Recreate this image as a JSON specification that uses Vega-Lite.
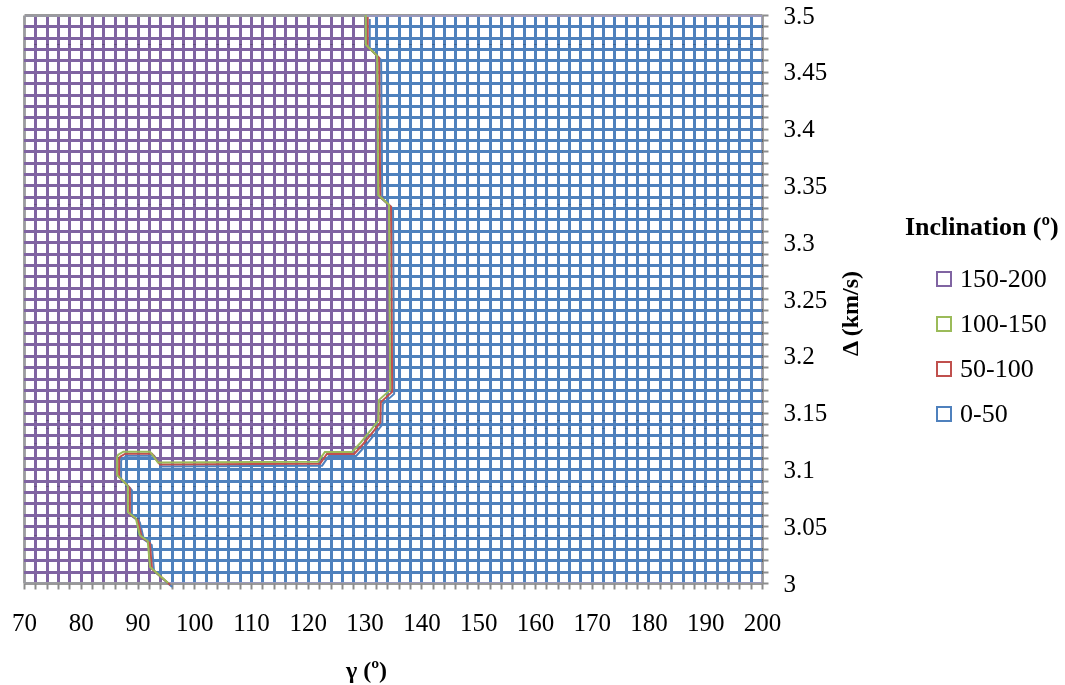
{
  "$schema": "https://vega.github.io/schema/vega-lite/v6.json",
  "width": 738,
  "height": 568,
  "autosize": {"type": "none"},
  "padding": {"left": 24, "top": 15, "right": 303, "bottom": 102},
  "background": "white",
  "config": {"font": "Liberation Serif", "view": {"stroke": null}},
  "datasets": {
    "regions": [
      {"y": 3.0, "ye": 3.007, "x": 70, "xe": 94.6, "c": "150-200"},
      {"y": 3.0, "ye": 3.007, "x": 94.6, "xe": 200, "c": "0-50"},
      {"y": 3.007, "ye": 3.014, "x": 70, "xe": 93.0, "c": "150-200"},
      {"y": 3.007, "ye": 3.014, "x": 93.0, "xe": 200, "c": "0-50"},
      {"y": 3.014, "ye": 3.037, "x": 70, "xe": 92.0, "c": "150-200"},
      {"y": 3.014, "ye": 3.037, "x": 92.0, "xe": 200, "c": "0-50"},
      {"y": 3.037, "ye": 3.042, "x": 70, "xe": 91.1, "c": "150-200"},
      {"y": 3.037, "ye": 3.042, "x": 91.1, "xe": 200, "c": "0-50"},
      {"y": 3.042, "ye": 3.057, "x": 70, "xe": 90.0, "c": "150-200"},
      {"y": 3.042, "ye": 3.057, "x": 90.0, "xe": 200, "c": "0-50"},
      {"y": 3.057, "ye": 3.0625, "x": 70, "xe": 89.0, "c": "150-200"},
      {"y": 3.057, "ye": 3.0625, "x": 89.0, "xe": 200, "c": "0-50"},
      {"y": 3.0625, "ye": 3.085, "x": 70, "xe": 88.3, "c": "150-200"},
      {"y": 3.0625, "ye": 3.085, "x": 88.3, "xe": 200, "c": "0-50"},
      {"y": 3.085, "ye": 3.095, "x": 70, "xe": 87.2, "c": "150-200"},
      {"y": 3.085, "ye": 3.095, "x": 87.2, "xe": 200, "c": "0-50"},
      {"y": 3.095, "ye": 3.1065, "x": 70, "xe": 86.4, "c": "150-200"},
      {"y": 3.095, "ye": 3.1065, "x": 86.4, "xe": 200, "c": "0-50"},
      {"y": 3.1065, "ye": 3.1153, "x": 70, "xe": 86.6, "c": "150-200"},
      {"y": 3.1065, "ye": 3.1153, "x": 86.6, "xe": 92.9, "c": "0-50"},
      {"y": 3.1065, "ye": 3.1153, "x": 92.9, "xe": 122.4, "c": "150-200"},
      {"y": 3.1065, "ye": 3.1153, "x": 122.4, "xe": 200, "c": "0-50"},
      {"y": 3.1153, "ye": 3.123, "x": 70, "xe": 128.5, "c": "150-200"},
      {"y": 3.1153, "ye": 3.123, "x": 128.5, "xe": 200, "c": "0-50"},
      {"y": 3.123, "ye": 3.136, "x": 70, "xe": 130.3, "c": "150-200"},
      {"y": 3.123, "ye": 3.136, "x": 130.3, "xe": 200, "c": "0-50"},
      {"y": 3.136, "ye": 3.143, "x": 70, "xe": 131.9, "c": "150-200"},
      {"y": 3.136, "ye": 3.143, "x": 131.9, "xe": 200, "c": "0-50"},
      {"y": 3.143, "ye": 3.161, "x": 70, "xe": 132.5, "c": "150-200"},
      {"y": 3.143, "ye": 3.161, "x": 132.5, "xe": 200, "c": "0-50"},
      {"y": 3.161, "ye": 3.17, "x": 70, "xe": 133.5, "c": "150-200"},
      {"y": 3.161, "ye": 3.17, "x": 133.5, "xe": 200, "c": "0-50"},
      {"y": 3.17, "ye": 3.333, "x": 70, "xe": 134.4, "c": "150-200"},
      {"y": 3.17, "ye": 3.333, "x": 134.4, "xe": 200, "c": "0-50"},
      {"y": 3.333, "ye": 3.3415, "x": 70, "xe": 133.4, "c": "150-200"},
      {"y": 3.333, "ye": 3.3415, "x": 133.4, "xe": 200, "c": "0-50"},
      {"y": 3.3415, "ye": 3.464, "x": 70, "xe": 132.3, "c": "150-200"},
      {"y": 3.3415, "ye": 3.464, "x": 132.3, "xe": 200, "c": "0-50"},
      {"y": 3.464, "ye": 3.474, "x": 70, "xe": 131.2, "c": "150-200"},
      {"y": 3.464, "ye": 3.474, "x": 131.2, "xe": 200, "c": "0-50"},
      {"y": 3.474, "ye": 3.5, "x": 70, "xe": 130.2, "c": "150-200"},
      {"y": 3.474, "ye": 3.5, "x": 130.2, "xe": 200, "c": "0-50"}
    ],
    "path": [
      {"o": 1, "x": 95.4, "y": 3.0},
      {"o": 2, "x": 92.2, "y": 3.014},
      {"o": 3, "x": 91.8, "y": 3.037},
      {"o": 4, "x": 90.4, "y": 3.042},
      {"o": 5, "x": 89.7, "y": 3.057},
      {"o": 6, "x": 88.3, "y": 3.0625},
      {"o": 7, "x": 88.3, "y": 3.085},
      {"o": 8, "x": 88.0, "y": 3.087},
      {"o": 9, "x": 86.4, "y": 3.095},
      {"o": 10, "x": 86.4, "y": 3.111},
      {"o": 11, "x": 86.6, "y": 3.113},
      {"o": 12, "x": 87.5, "y": 3.1156},
      {"o": 13, "x": 92.2, "y": 3.1156},
      {"o": 14, "x": 93.6, "y": 3.1061},
      {"o": 15, "x": 121.8, "y": 3.1068},
      {"o": 16, "x": 123.0, "y": 3.1153},
      {"o": 17, "x": 127.8, "y": 3.1153},
      {"o": 18, "x": 129.2, "y": 3.123},
      {"o": 19, "x": 131.3, "y": 3.136},
      {"o": 20, "x": 132.4, "y": 3.143},
      {"o": 21, "x": 132.5, "y": 3.161},
      {"o": 22, "x": 134.5, "y": 3.17},
      {"o": 23, "x": 134.3, "y": 3.333},
      {"o": 24, "x": 132.4, "y": 3.3415},
      {"o": 25, "x": 132.2, "y": 3.464},
      {"o": 26, "x": 130.2, "y": 3.474},
      {"o": 27, "x": 130.2, "y": 3.5}
    ]
  },
  "encoding": {
    "x": {
      "field": "x", "type": "quantitative",
      "scale": {"domain": [70, 200], "nice": false, "zero": false},
      "axis": {
        "values": [70,72,74,76,78,80,82,84,86,88,90,92,94,96,98,100,102,104,106,108,110,112,114,116,118,120,122,124,126,128,130,132,134,136,138,140,142,144,146,148,150,152,154,156,158,160,162,164,166,168,170,172,174,176,178,180,182,184,186,188,190,192,194,196,198,200],
        "grid": true,
        "gridColor": {"condition": {"test": "datum.value <= 70.01 || datum.value >= 199.99", "value": "#9a9a9a"}, "value": "#000000"},
        "gridWidth": 2.8,
        "domain": false,
        "ticks": true, "tickColor": "#8c8c8c", "tickSize": 6, "tickWidth": 2,
        "labelExpr": "round(datum.value) % 10 === 0 ? datum.label : ''",
        "labelFont": "Liberation Serif", "labelFontSize": 25, "labelColor": "black",
        "labelPadding": 21, "labelFlush": false, "labelOverlap": false, "labelBound": false,
        "title": "γ (º)", "titleFont": "Liberation Serif", "titleFontSize": 24, "titleFontWeight": "bold", "titleColor": "black",
        "titleX": 342, "titleY": 94, "titleBaseline": "alphabetic", "titleAlign": "center"
      }
    },
    "y": {
      "field": "y", "type": "quantitative",
      "scale": {"domain": [3, 3.5], "nice": false, "zero": false},
      "axis": {
        "orient": "right",
        "values": [3,3.01,3.02,3.03,3.04,3.05,3.06,3.07,3.08,3.09,3.1,3.11,3.12,3.13,3.14,3.15,3.16,3.17,3.18,3.19,3.2,3.21,3.22,3.23,3.24,3.25,3.26,3.27,3.28,3.29,3.3,3.31,3.32,3.33,3.34,3.35,3.36,3.37,3.38,3.39,3.4,3.41,3.42,3.43,3.44,3.45,3.46,3.47,3.48,3.49,3.5],
        "grid": true,
        "gridColor": {"condition": {"test": "datum.value <= 3.0001 || datum.value >= 3.4999", "value": "#9a9a9a"}, "value": "#000000"},
        "gridWidth": 2.8,
        "domain": false,
        "ticks": true, "tickColor": "#8c8c8c", "tickSize": 6, "tickWidth": 2,
        "labelExpr": "abs(round(datum.value * 100)) % 5 === 0 ? format(datum.value, '.2~f') : ''",
        "labelFont": "Liberation Serif", "labelFontSize": 25, "labelColor": "black",
        "labelPadding": 15, "labelOverlap": false, "labelBound": false, "labelFlush": false,
        "title": "Δ (km/s)", "titleFont": "Liberation Serif", "titleFontSize": 24, "titleFontWeight": "bold", "titleColor": "black",
        "titleAngle": 270, "titleX": 88, "titleY": 298, "titleAlign": "center", "titleBaseline": "middle"
      }
    }
  },
  "layer": [
    {
      "data": {"name": "regions"},
      "mark": {"type": "rect", "blend": "lighten"},
      "encoding": {
        "x2": {"field": "xe"},
        "y2": {"field": "ye"},
        "fill": {
          "field": "c", "type": "nominal",
          "scale": {"domain": ["150-200", "0-50"], "range": ["#8064A2", "#4F81BD"]},
          "legend": null
        }
      }
    },
    {
      "data": {"name": "path"},
      "mark": {"type": "line", "strokeWidth": 2, "xOffset": 4, "yOffset": 4},
      "encoding": {
        "order": {"field": "o", "type": "quantitative"},
        "stroke": {
          "datum": "0-50", "type": "nominal",
          "scale": {"domain": ["150-200", "100-150", "50-100", "0-50"], "range": ["#8064A2", "#9BBB59", "#C0504D", "#4F81BD"]},
          "legend": {
            "title": "Inclination (º)",
            "orient": "none", "legendX": 881, "legendY": 199,
            "titleFont": "Liberation Serif", "titleFontSize": 26, "titleFontWeight": "bold", "titleColor": "black",
            "titlePadding": 26,
            "labelFont": "Liberation Serif", "labelFontSize": 26, "labelColor": "black",
            "symbolType": "square", "symbolSize": 196, "symbolStrokeWidth": 2, "symbolFillColor": "white",
            "symbolOffset": 26, "labelOffset": 3, "rowPadding": 19,
            "encode": {"symbols": {"update": {"fill": {"value": "white"}, "opacity": {"value": 1}}}}
          }
        }
      }
    },
    {
      "data": {"name": "path"},
      "mark": {"type": "line", "strokeWidth": 2, "xOffset": 2, "yOffset": 2},
      "encoding": {
        "order": {"field": "o", "type": "quantitative"},
        "stroke": {"datum": "50-100", "type": "nominal"}
      }
    },
    {
      "data": {"name": "path"},
      "mark": {"type": "line", "strokeWidth": 2},
      "encoding": {
        "order": {"field": "o", "type": "quantitative"},
        "stroke": {"datum": "100-150", "type": "nominal"}
      }
    }
  ]
}
